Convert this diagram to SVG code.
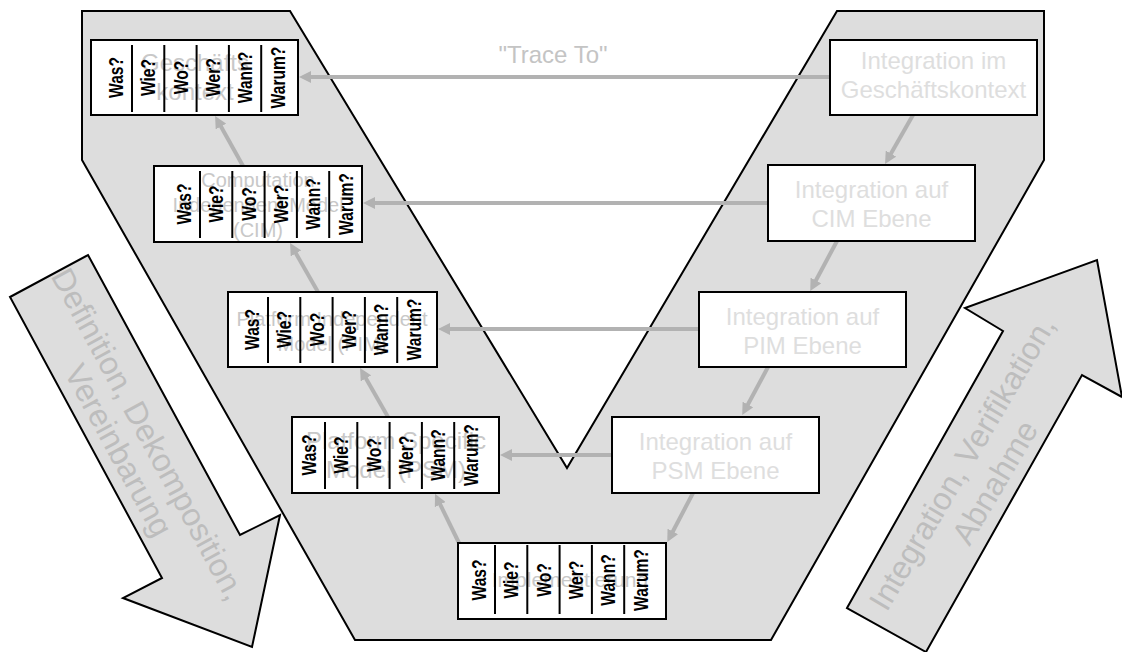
<svg xmlns="http://www.w3.org/2000/svg" width="1122" height="652" viewBox="0 0 1122 652">
  <style>
    .shape { fill: #dddddd; stroke: #000; stroke-width: 2; stroke-linejoin: miter; }
    .box { fill: #ffffff; stroke: #000; stroke-width: 2; }
    .sep { stroke: #000; stroke-width: 2; }
    .q { font-family: "Liberation Sans", Arial, sans-serif; font-weight: bold; font-size: 20px; fill: #000; text-anchor: middle; }
    .lbl { font-family: "Liberation Sans", Arial, sans-serif; font-size: 24px; fill: #c8c8c8; text-anchor: middle; }
    .lbl20 { font-size: 20px; }
    .lbl21 { font-size: 21px; }
    .ilbl { fill: #dedede; }
    .trace { fill: #c4c4c4; }
    .atxt { font-family: "Liberation Sans", Arial, sans-serif; font-size: 32px; fill: #bdbdbd; text-anchor: middle; }
    .conn { stroke: #b2b2b2; stroke-width: 4; fill: none; marker-end: url(#ah); }
  </style>
  <defs>
    <marker id="ah" markerUnits="userSpaceOnUse" markerWidth="14" markerHeight="12" refX="4" refY="6" orient="auto">
      <path d="M0,0 L12,6 L0,12 z" fill="#b2b2b2"/>
    </marker>
  </defs>

  <rect width="1122" height="652" fill="#ffffff"/>

  <!-- V-shaped process band -->
  <polygon id="v-band" class="shape" points="82,11 290,11 567,468 837,11 1044,11 1044,160 771,640 355,640 82,160"/>

  <!-- downward block arrow, left -->
  <g id="arrow-definition">
    <polygon class="shape" points="10,297 88,255 240,535 280,515 252,647 123,598 162,578"/>
    <g transform="translate(134,442) rotate(61.5)">
      <text class="atxt" x="0" y="-5.5">Definition, Dekomposition,</text>
      <text class="atxt" x="0" y="28.5">Vereinbarung</text>
    </g>
  </g>

  <!-- upward block arrow, right -->
  <g id="arrow-integration">
    <polygon class="shape" points="847,608 1003,331 965,308 1097,260 1122,397 1082,375 926,652"/>
    <g transform="translate(978,472.5) rotate(-59.5)">
      <text class="atxt" x="0" y="-7.5">Integration, Verifikation,</text>
      <text class="atxt" x="0" y="30.5">Abnahme</text>
    </g>
  </g>

  <text id="trace-label" class="lbl trace" x="553" y="63">"Trace To"</text>

  <!-- connectors -->
  <g id="connectors">
    <!-- trace links -->
    <line class="conn" x1="830" y1="77" x2="307" y2="77"/>
    <line class="conn" x1="768" y1="203" x2="371" y2="203"/>
    <line class="conn" x1="699" y1="329" x2="446" y2="329"/>
    <line class="conn" x1="612" y1="455" x2="508" y2="455"/>
    <!-- refinement chain, left column (upwards) -->
    <line class="conn" x1="243" y1="166" x2="219" y2="123"/>
    <line class="conn" x1="318" y1="292" x2="294" y2="250"/>
    <line class="conn" x1="388" y1="417" x2="364" y2="375"/>
    <line class="conn" x1="459" y1="543" x2="438.5" y2="501"/>
    <!-- integration chain, right column (downwards) -->
    <line class="conn" x1="913" y1="115" x2="889" y2="157"/>
    <line class="conn" x1="837" y1="241" x2="814" y2="284"/>
    <line class="conn" x1="768" y1="367" x2="746" y2="408"/>
    <line class="conn" x1="693" y1="493" x2="671" y2="535"/>
  </g>

  <!-- model level: Geschäftskontext -->
  <g id="level-business">
    <rect class="box" x="91" y="40" width="207" height="75"/>
    <text class="lbl" x="195" y="71">Geschäfts</text>
    <text class="lbl" x="195" y="100">kontext</text>
    <g class="sep">
      <line x1="132" y1="45" x2="132" y2="112"/>
      <line x1="164.3" y1="45" x2="164.3" y2="112"/>
      <line x1="196.6" y1="45" x2="196.6" y2="112"/>
      <line x1="228.9" y1="45" x2="228.9" y2="112"/>
      <line x1="261.2" y1="45" x2="261.2" y2="112"/>
    </g>
    <text class="q" x="0" y="7" transform="translate(116,77.5) rotate(-90) scale(0.78,1)">Was?</text>
    <text class="q" x="0" y="7" transform="translate(148.3,77.5) rotate(-90) scale(0.78,1)">Wie?</text>
    <text class="q" x="0" y="7" transform="translate(180.6,77.5) rotate(-90) scale(0.78,1)">Wo?</text>
    <text class="q" x="0" y="7" transform="translate(212.9,77.5) rotate(-90) scale(0.78,1)">Wer?</text>
    <text class="q" x="0" y="7" transform="translate(245.2,77.5) rotate(-90) scale(0.78,1)">Wann?</text>
    <text class="q" x="0" y="7" transform="translate(277.5,77.5) rotate(-90) scale(0.78,1)">Warum?</text>
  </g>

  <!-- model level: CIM -->
  <g id="level-cim">
    <rect class="box" x="154" y="166" width="208" height="76"/>
    <text class="lbl lbl20" x="258" y="187">Computation</text>
    <text class="lbl lbl20" x="258" y="212">Independent Model</text>
    <text class="lbl lbl20" x="258" y="237">(CIM)</text>
    <g class="sep">
      <line x1="200" y1="171" x2="200" y2="238"/>
      <line x1="232.3" y1="171" x2="232.3" y2="238"/>
      <line x1="264.6" y1="171" x2="264.6" y2="238"/>
      <line x1="296.9" y1="171" x2="296.9" y2="238"/>
      <line x1="329.2" y1="171" x2="329.2" y2="238"/>
    </g>
    <text class="q" x="0" y="7" transform="translate(184,204) rotate(-90) scale(0.78,1)">Was?</text>
    <text class="q" x="0" y="7" transform="translate(216.3,204) rotate(-90) scale(0.78,1)">Wie?</text>
    <text class="q" x="0" y="7" transform="translate(248.6,204) rotate(-90) scale(0.78,1)">Wo?</text>
    <text class="q" x="0" y="7" transform="translate(280.9,204) rotate(-90) scale(0.78,1)">Wer?</text>
    <text class="q" x="0" y="7" transform="translate(313.2,204) rotate(-90) scale(0.78,1)">Wann?</text>
    <text class="q" x="0" y="7" transform="translate(345.5,204) rotate(-90) scale(0.78,1)">Warum?</text>
  </g>

  <!-- model level: PIM -->
  <g id="level-pim">
    <rect class="box" x="228" y="292" width="209" height="75"/>
    <text class="lbl lbl20" x="332" y="326">Platform Independent</text>
    <text class="lbl lbl20" x="332" y="351">Model (PIM)</text>
    <g class="sep">
      <line x1="268" y1="297" x2="268" y2="363"/>
      <line x1="300.3" y1="297" x2="300.3" y2="363"/>
      <line x1="332.6" y1="297" x2="332.6" y2="363"/>
      <line x1="364.9" y1="297" x2="364.9" y2="363"/>
      <line x1="397.2" y1="297" x2="397.2" y2="363"/>
    </g>
    <text class="q" x="0" y="7" transform="translate(252,329.5) rotate(-90) scale(0.78,1)">Was?</text>
    <text class="q" x="0" y="7" transform="translate(284.3,329.5) rotate(-90) scale(0.78,1)">Wie?</text>
    <text class="q" x="0" y="7" transform="translate(316.6,329.5) rotate(-90) scale(0.78,1)">Wo?</text>
    <text class="q" x="0" y="7" transform="translate(348.9,329.5) rotate(-90) scale(0.78,1)">Wer?</text>
    <text class="q" x="0" y="7" transform="translate(381.2,329.5) rotate(-90) scale(0.78,1)">Wann?</text>
    <text class="q" x="0" y="7" transform="translate(413.5,329.5) rotate(-90) scale(0.78,1)">Warum?</text>
  </g>

  <!-- model level: PSM -->
  <g id="level-psm">
    <rect class="box" x="292" y="417" width="207" height="76"/>
    <text class="lbl" x="396" y="449">Platform Specific</text>
    <text class="lbl" x="396" y="478">Model (PSM)</text>
    <g class="sep">
      <line x1="325" y1="422" x2="325" y2="489"/>
      <line x1="357.3" y1="422" x2="357.3" y2="489"/>
      <line x1="389.6" y1="422" x2="389.6" y2="489"/>
      <line x1="421.9" y1="422" x2="421.9" y2="489"/>
      <line x1="454.2" y1="422" x2="454.2" y2="489"/>
    </g>
    <text class="q" x="0" y="7" transform="translate(309,455) rotate(-90) scale(0.78,1)">Was?</text>
    <text class="q" x="0" y="7" transform="translate(341.3,455) rotate(-90) scale(0.78,1)">Wie?</text>
    <text class="q" x="0" y="7" transform="translate(373.6,455) rotate(-90) scale(0.78,1)">Wo?</text>
    <text class="q" x="0" y="7" transform="translate(405.9,455) rotate(-90) scale(0.78,1)">Wer?</text>
    <text class="q" x="0" y="7" transform="translate(438.2,455) rotate(-90) scale(0.78,1)">Wann?</text>
    <text class="q" x="0" y="7" transform="translate(470.5,455) rotate(-90) scale(0.78,1)">Warum?</text>
  </g>

  <!-- implementation level -->
  <g id="level-impl">
    <rect class="box" x="458" y="543" width="208" height="76"/>
    <text class="lbl lbl21" x="570" y="587">Implementierung</text>
    <g class="sep">
      <line x1="495" y1="545" x2="495" y2="614"/>
      <line x1="527.3" y1="545" x2="527.3" y2="614"/>
      <line x1="559.6" y1="545" x2="559.6" y2="614"/>
      <line x1="591.9" y1="545" x2="591.9" y2="614"/>
      <line x1="624.2" y1="545" x2="624.2" y2="614"/>
    </g>
    <text class="q" x="0" y="7" transform="translate(479,580) rotate(-90) scale(0.78,1)">Was?</text>
    <text class="q" x="0" y="7" transform="translate(511.3,580) rotate(-90) scale(0.78,1)">Wie?</text>
    <text class="q" x="0" y="7" transform="translate(543.6,580) rotate(-90) scale(0.78,1)">Wo?</text>
    <text class="q" x="0" y="7" transform="translate(575.9,580) rotate(-90) scale(0.78,1)">Wer?</text>
    <text class="q" x="0" y="7" transform="translate(608.2,580) rotate(-90) scale(0.78,1)">Wann?</text>
    <text class="q" x="0" y="7" transform="translate(640.5,580) rotate(-90) scale(0.78,1)">Warum?</text>
  </g>

  <!-- integration steps -->
  <g id="int-business">
    <rect class="box" x="830" y="40" width="207" height="75"/>
    <text class="lbl ilbl" x="933.5" y="69">Integration im</text>
    <text class="lbl ilbl" x="933.5" y="98">Geschäftskontext</text>
  </g>
  <g id="int-cim">
    <rect class="box" x="768" y="165" width="207" height="76"/>
    <text class="lbl ilbl" x="871.5" y="198">Integration auf</text>
    <text class="lbl ilbl" x="871.5" y="227">CIM Ebene</text>
  </g>
  <g id="int-pim">
    <rect class="box" x="699" y="292" width="207" height="75"/>
    <text class="lbl ilbl" x="802.5" y="325">Integration auf</text>
    <text class="lbl ilbl" x="802.5" y="354">PIM Ebene</text>
  </g>
  <g id="int-psm">
    <rect class="box" x="612" y="417" width="207" height="76"/>
    <text class="lbl ilbl" x="715.5" y="450">Integration auf</text>
    <text class="lbl ilbl" x="715.5" y="479">PSM Ebene</text>
  </g>
</svg>
